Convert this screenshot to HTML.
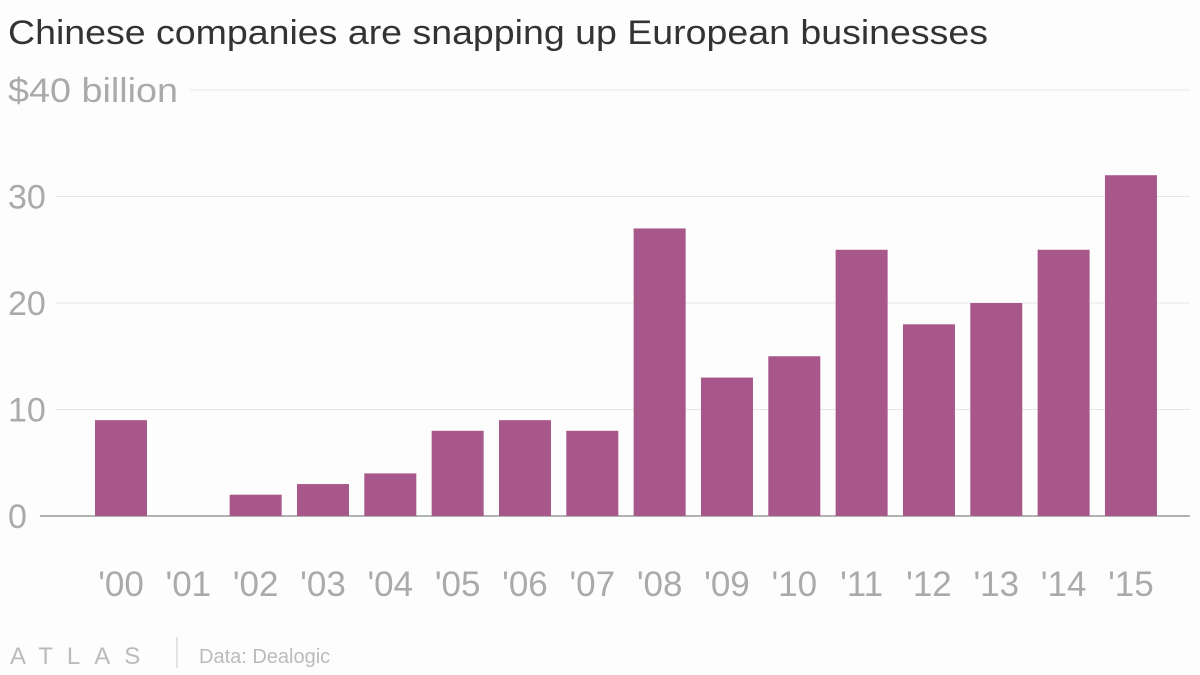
<!DOCTYPE html>
<html><head><meta charset="utf-8"><style>
body{margin:0;background:#fdfdfd;font-family:"Liberation Sans",sans-serif;}
svg{display:block}
</style></head><body>
<svg width="1200" height="675">
<rect width="1200" height="675" fill="#fdfdfd"/>
<text x="8" y="44" font-size="34" fill="#333" textLength="980" lengthAdjust="spacingAndGlyphs">Chinese companies are snapping up European businesses</text>
<g id="grid"></g>
<g id="bars"></g>
<g id="xlabels"></g>
<text x="10" y="664" font-size="24" fill="#bbb" letter-spacing="14">ATLAS</text>
<line x1="177" y1="637" x2="177" y2="668" stroke="#ccc"/>
<text x="199" y="663" font-size="20" fill="#bbb">Data: Dealogic</text>
</svg>
<script>
const categories=["'00","'01","'02","'03","'04","'05","'06","'07","'08","'09","'10","'11","'12","'13","'14","'15"];
const values=[9,0,2,3,4,8,9,8,27,13,15,25,18,20,25,32];
const yTicks=[0,10,20,30,40];
const yTickLabels=["0","10","20","30","$40 billion"];
const NS="http://www.w3.org/2000/svg";
const y=v=>516-v*10.65;
const x=i=>121+i*67.33;
function mk(t,a,p){const e=document.createElementNS(NS,t);for(const k in a)e.setAttribute(k,a[k]);p.appendChild(e);return e;}
const grid=document.getElementById('grid'),bars=document.getElementById('bars'),xl=document.getElementById('xlabels');
yTicks.forEach((t,i)=>{
  const lab=yTickLabels[i];
  const tx=mk('text',{x:8,y:y(t)+12,'font-size':34,fill:'#aaa'},grid);tx.textContent=lab;
  if(t===40){tx.setAttribute('textLength','170');tx.setAttribute('lengthAdjust','spacingAndGlyphs');}
  
  
  const start=t===40?190:(t===0?40:(lab.length*19+18));
  const ln=mk('line',{x1:start,x2:1190,y1:y(t),y2:y(t),stroke:t===0?'#999':'#e6e6e6','stroke-width':t===0?1.5:1},grid);
  
  
});
values.forEach((v,i)=>{
  const r=mk('rect',{x:x(i)-26,y:y(v),width:52,height:516-y(v),fill:'#a8578a'},bars);
  
  
  const t=mk('text',{x:x(i),y:596,'font-size':35,fill:'#aaa','text-anchor':'middle'},xl);t.textContent=categories[i];
  
  
});
</script>
</body></html>
